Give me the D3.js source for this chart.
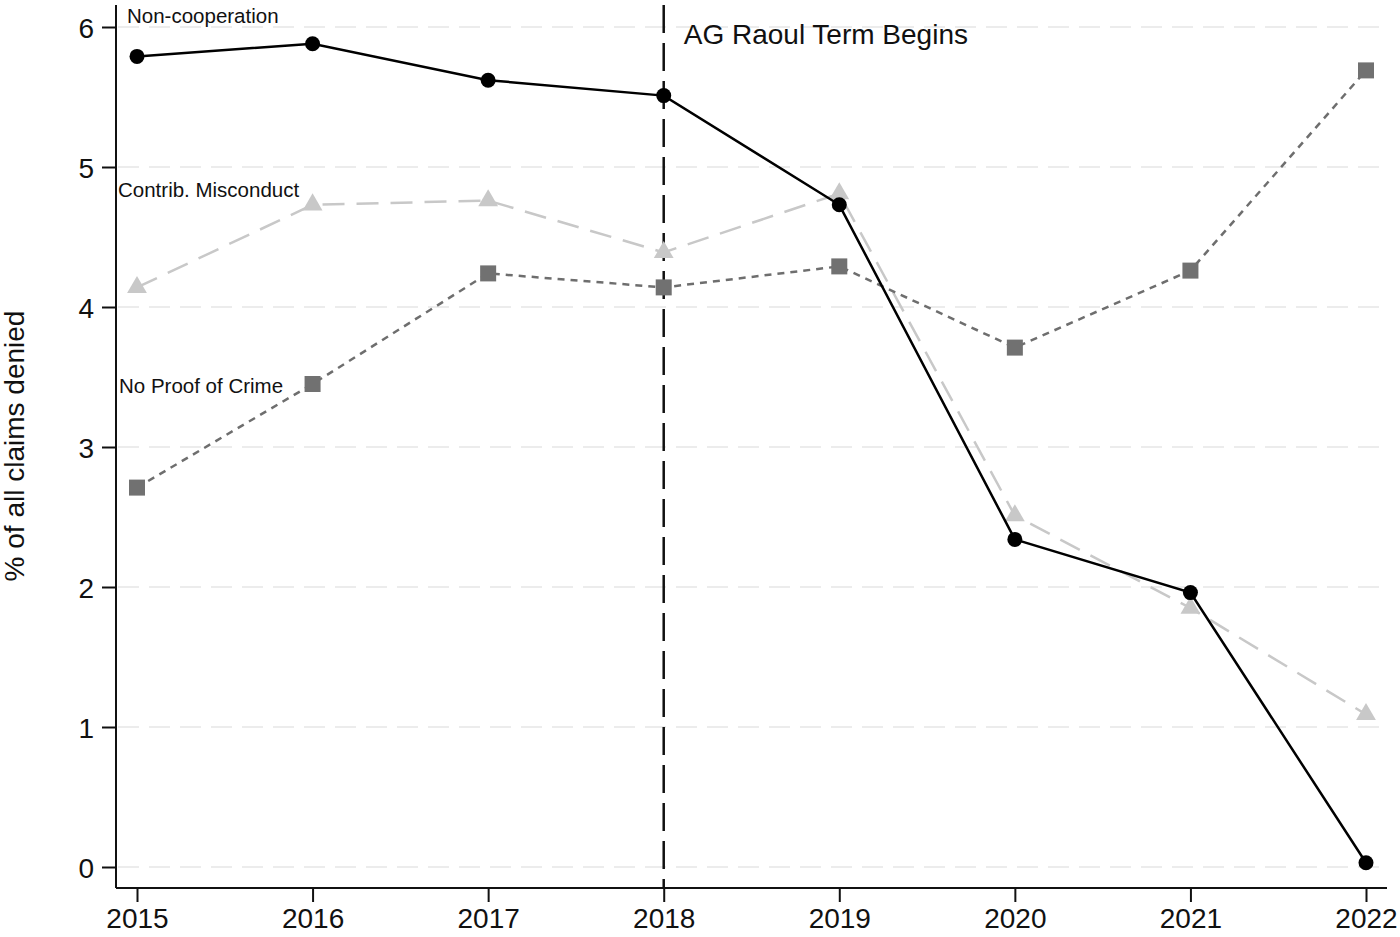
<!DOCTYPE html>
<html><head><meta charset="utf-8">
<script src="https://cdn.jsdelivr.net/npm/d3@7"></script>
<style>body{margin:0;background:#fff}svg{display:block}text{font-family:"Liberation Sans",Arial,Helvetica,sans-serif}</style>
</head><body><svg id="c" width="1400" height="937"></svg>
<script>
const years = [2015, 2016, 2017, 2018, 2019, 2020, 2021, 2022];
const nonCooperation = [5.79, 5.88, 5.62, 5.51, 4.73, 2.34, 1.96, 0.03];
const contribMisconduct = [4.14, 4.73, 4.76, 4.39, 4.81, 2.51, 1.85, 1.09];
const noProofOfCrime = [2.71, 3.45, 4.24, 4.14, 4.29, 3.71, 4.26, 5.69];
const yTicks = [0, 1, 2, 3, 4, 5, 6];
const seriesLabels = ["Non-cooperation", "Contrib. Misconduct", "No Proof of Crime"];
const eventYear = 2018;
const eventLabel = "AG Raoul Term Begins";

(function () {
const svg = d3.select("#c");
const pL = 116, pR = 1387, pT = 5, pB = 888;
const x = d3.scaleLinear().domain([2015, 2022]).range([137, 1366]);
const y = d3.scaleLinear().domain([0, 6]).range([867, 27]);

// gridlines
svg.append("g").selectAll("line").data(yTicks).join("line")
  .attr("x1", pL + 2).attr("x2", 1380)
  .attr("y1", d => y(d)).attr("y2", d => y(d))
  .attr("stroke", "#e6e6e6").attr("stroke-width", 1.5).attr("stroke-dasharray", "21,10");

// axes
const yAxis = svg.append("g").attr("transform", `translate(${pL},0)`)
  .call(d3.axisLeft(y).tickValues(yTicks).tickSize(14).tickPadding(8).tickFormat(d3.format("d")));
yAxis.select(".domain").attr("d", `M0,${pT}V${pB}`);
const xAxis = svg.append("g").attr("transform", `translate(0,${pB})`)
  .call(d3.axisBottom(x).tickValues(years).tickSize(14).tickPadding(4).tickFormat(d3.format("d")));
xAxis.select(".domain").attr("d", `M${pL},0H${pR}`);
[yAxis, xAxis].forEach(a => {
  a.selectAll("path,line").attr("stroke", "#111").attr("stroke-width", 2);
  a.selectAll("text").attr("fill", "#111").style("font-family", '"Liberation Sans",Arial,sans-serif');
});
yAxis.selectAll("text").attr("font-size", 28).attr("dy", "0.36em");
xAxis.selectAll("text").attr("font-size", 28).attr("dy", "0.8em");

// vertical event line
svg.append("line").attr("x1", x(eventYear)).attr("x2", x(eventYear))
  .attr("y1", pT).attr("y2", pB)
  .attr("stroke", "#111").attr("stroke-width", 2.5).attr("stroke-dasharray", "28,10");
svg.append("text").attr("x", x(eventYear) + 20).attr("y", 44)
  .attr("font-size", 28).attr("fill", "#111").text(eventLabel);

const line = d3.line().x((d, i) => x(years[i])).y(d => y(d));

// Contrib. Misconduct
svg.append("path").datum(contribMisconduct).attr("d", line).attr("fill", "none")
  .attr("stroke", "#c8c8c8").attr("stroke-width", 2.5).attr("stroke-dasharray", "22,12");
svg.append("g").selectAll("path").data(contribMisconduct).join("path")
  .attr("transform", (d, i) => `translate(${x(years[i])},${y(d)})`)
  .attr("d", d3.symbol(d3.symbolTriangle, 170)).attr("fill", "#c8c8c8");

// No Proof of Crime
svg.append("path").datum(noProofOfCrime).attr("d", line).attr("fill", "none")
  .attr("stroke", "#6e6e6e").attr("stroke-width", 2.5).attr("stroke-dasharray", "7,6");
svg.append("g").selectAll("rect").data(noProofOfCrime).join("rect")
  .attr("x", (d, i) => x(years[i]) - 8).attr("y", d => y(d) - 8)
  .attr("width", 16).attr("height", 16).attr("fill", "#717171");

// Non-cooperation
svg.append("path").datum(nonCooperation).attr("d", line).attr("fill", "none")
  .attr("stroke", "#000").attr("stroke-width", 2.5);
svg.append("g").selectAll("circle").data(nonCooperation).join("circle")
  .attr("cx", (d, i) => x(years[i])).attr("cy", d => y(d)).attr("r", 7.5).attr("fill", "#000");

// series labels
const labPos = [[127, 23], [118, 197], [119, 393]];
svg.append("g").selectAll("text").data(seriesLabels).join("text")
  .attr("x", (d, i) => labPos[i][0]).attr("y", (d, i) => labPos[i][1])
  .attr("font-size", 20.5).attr("fill", "#111").text(d => d);

// y title
svg.append("text").attr("transform", "translate(24,446) rotate(-90)")
  .attr("text-anchor", "middle").attr("font-size", 28).attr("fill", "#111")
  .text("% of all claims denied");
})();
</script></body></html>
